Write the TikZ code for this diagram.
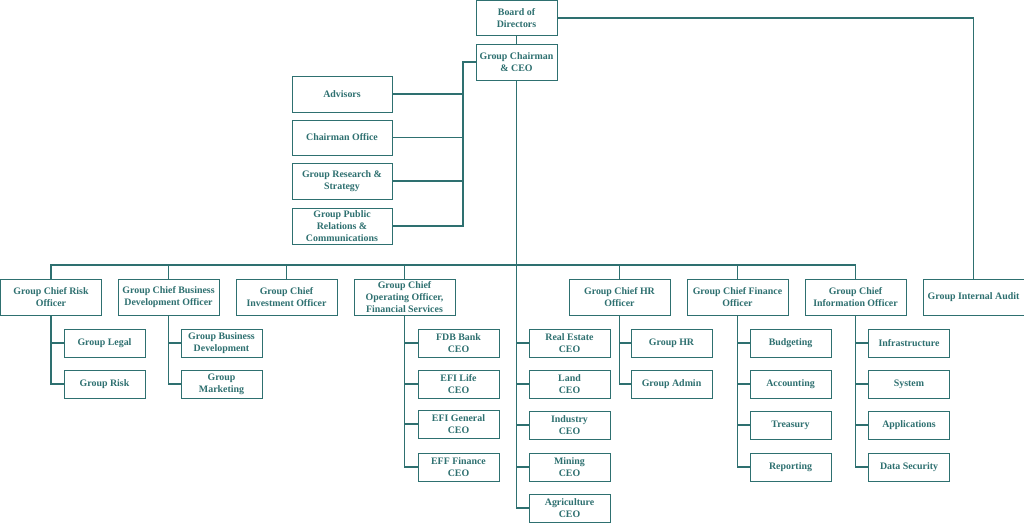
\documentclass[tikz,border=0pt]{standalone}
\usepackage{fontspec}
\setmainfont{Liberation Serif}
\definecolor{teal1}{RGB}{46,112,112}
\begin{document}
\begin{tikzpicture}[x=1pt,y=-1pt,
  box/.style={draw=teal1, line width=1pt, fill=white, text=teal1, inner sep=0pt, align=center,
    font=\fontsize{9.9}{11.7}\selectfont\bfseries},
  lbox/.style={box, minimum width=101pt, minimum height=36pt},
  sbox/.style={box, minimum width=81pt, minimum height=28pt},
  tbox/.style={box, minimum width=100pt, minimum height=36pt},
  conn/.style={draw=teal1, line width=1.5pt}]
\useasboundingbox (0,0) rectangle (1024,525);
% top
\node[box, minimum width=81pt, minimum height=35pt] (bod) at (516.5,18) {Board of\\Directors};
\node[box, minimum width=81pt, minimum height=36pt] (ceo) at (516.5,62) {Group Chairman\\\& CEO};
% staff
\node[tbox] (adv) at (342,94) {Advisors};
\node[tbox, minimum height=35pt] (cho) at (342,137.5) {Chairman Office};
\node[tbox] (grs) at (342,181) {Group Research \&\\Strategy};
\node[tbox] (gpr) at (342,226) {Group Public\\Relations \&\\Communications};
% level 2
\node[lbox] (risk) at (51,297) {Group Chief Risk\\Officer};
\node[lbox] (busdev) at (168.5,297) {Group Chief Business\\Development Officer};
\node[lbox] (inv) at (286.5,297) {Group Chief\\Investment Officer};
\node[lbox] (coo) at (404.5,297) {Group Chief\\Operating Officer,\\Financial Services};
\node[lbox] (hr) at (619.5,297) {Group Chief HR\\Officer};
\node[lbox] (fin) at (737.5,297) {Group Chief Finance\\Officer};
\node[lbox] (info) at (855.5,297) {Group Chief\\Information Officer};
\node[lbox] (audit) at (973.5,297) {Group Internal Audit};
% level 3
\node[sbox] (legal) at (104.5,343) {Group Legal};
\node[sbox] (grisk) at (104.5,384) {Group Risk};
\node[sbox] (gbd) at (221.5,343) {Group Business\\Development};
\node[sbox] (gmk) at (221.5,384) {Group\\Marketing};
\node[sbox] (fdb) at (458.5,343) {FDB Bank\\CEO};
\node[sbox] (efil) at (458.5,384) {EFI Life\\CEO};
\node[sbox] (efig) at (458.5,424) {EFI General\\CEO};
\node[sbox] (eff) at (458.5,467) {EFF Finance\\CEO};
\node[sbox] (re) at (569.5,343) {Real Estate\\CEO};
\node[sbox] (land) at (569.5,384) {Land\\CEO};
\node[sbox] (ind) at (569.5,425) {Industry\\CEO};
\node[sbox] (min) at (569.5,467) {Mining\\CEO};
\node[sbox] (agr) at (569.5,508) {Agriculture\\CEO};
\node[sbox] (ghr) at (671.5,343) {Group HR};
\node[sbox] (gadm) at (671.5,384) {Group Admin};
\node[sbox] (bud) at (790.5,343) {Budgeting};
\node[sbox] (acc) at (790.5,384) {Accounting};
\node[sbox] (tre) at (790.5,425) {Treasury};
\node[sbox] (rep) at (790.5,467) {Reporting};
\node[sbox] (infra) at (909,343) {Infrastructure};
\node[sbox] (sys) at (909,384) {System};
\node[sbox] (app) at (909,425) {Applications};
\node[sbox] (ds) at (909,467) {Data Security};
% connectors
\coordinate (sb) at (463,0);
\coordinate (bus) at (0,265);
\path[conn] (bod.south) -- (ceo.north);
\path[conn] (bod.east) -| (audit.north);
\path[conn] (ceo.west) -- (ceo.west -| sb) -- (gpr.east -| sb) -- (gpr.east);
\foreach \n in {adv,cho,grs} \path[conn] (\n.east) -- (\n.east -| sb);
\path[conn] (ceo.south) |- (agr.west);
\foreach \n in {re,land,ind,min} \path[conn] (\n.west) -- (\n.west -| ceo.south);
\path[conn] (risk.north) -- (risk.north |- bus) -- (info.north |- bus) -- (info.north);
\foreach \n in {busdev,inv,coo,hr,fin} \path[conn] (\n.north) -- (\n.north |- bus);
\path[conn] (risk.south) |- (grisk.west);
\path[conn] (legal.west) -- (legal.west -| risk.south);
\path[conn] (busdev.south) |- (gmk.west);
\path[conn] (gbd.west) -- (gbd.west -| busdev.south);
\path[conn] (coo.south) |- (eff.west);
\foreach \n in {fdb,efil,efig} \path[conn] (\n.west) -- (\n.west -| coo.south);
\path[conn] (hr.south) |- (gadm.west);
\path[conn] (ghr.west) -- (ghr.west -| hr.south);
\path[conn] (fin.south) |- (rep.west);
\foreach \n in {bud,acc,tre} \path[conn] (\n.west) -- (\n.west -| fin.south);
\path[conn] (info.south) |- (ds.west);
\foreach \n in {infra,sys,app} \path[conn] (\n.west) -- (\n.west -| info.south);
\end{tikzpicture}
\end{document}
